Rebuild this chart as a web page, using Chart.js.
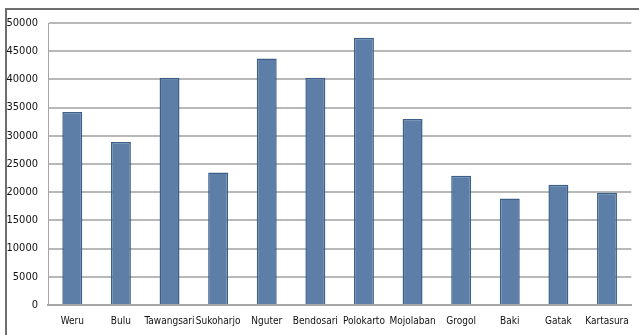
<!DOCTYPE html>
<html>
<head>
<meta charset="utf-8">
<script src="https://cdn.jsdelivr.net/npm/chart.js@4.4.1/dist/chart.umd.min.js"></script>
<style>
  html, body { margin: 0; padding: 0; background: #fff; }
  #frame { position: absolute; left: 5px; top: 8px; width: 634px; height: 327px;
           border-top: 2px solid #6e6e6e; border-left: 2px solid #6e6e6e; box-sizing: border-box; }
  #wrap { position: absolute; left: 0; top: 0; width: 639px; height: 335px; }
</style>
</head>
<body>
<div id="frame"></div>
<div id="wrap"><canvas id="bars"></canvas></div>
<script>
const districts = ['Weru', 'Bulu', 'Tawangsari', 'Sukoharjo', 'Nguter', 'Bendosari',
  'Polokarto', 'Mojolaban', 'Grogol', 'Baki', 'Gatak', 'Kartasura'];
const counts = [34200, 28900, 40300, 23500, 43700, 40300, 47400, 33000, 22900, 18900, 21300, 19900];
const yTicks = [0, 5000, 10000, 15000, 20000, 25000, 30000, 35000, 40000, 45000, 50000];

const fontFamily = "'Liberation Sans Narrow', 'DejaVu Sans Condensed', sans-serif";

const ctx = document.getElementById('bars').getContext('2d');
let chart = new Chart(ctx, { // eslint-disable-line
  type: 'bar',
  data: {
    labels: districts,
    datasets: [{
      data: counts,
      backgroundColor: '#5d7ea6',
      borderColor: '#3b5f8a',
      borderWidth: 1.5,
      categoryPercentage: 1,
      barPercentage: 0.41
    }]
  },
  options: {
    responsive: true,
    maintainAspectRatio: false,
    animation: false,
    layout: { padding: { top: 23, right: 5, left: 0, bottom: 0 } },
    plugins: { legend: { display: false }, tooltip: { enabled: false } },
    scales: {
      x: {
        grid: { display: false, drawTicks: false },
        border: { color: '#a6a6a6', width: 2 },
        ticks: { color: '#111', font: { family: fontFamily, size: 10 }, padding: 10, maxRotation: 0, autoSkip: false },
        afterFit: (scale) => { scale.height = 30; }
      },
      y: {
        min: 0,
        max: 50000,
        afterBuildTicks: (scale) => { scale.ticks = yTicks.map(v => ({ value: v })); },
        grid: { color: '#b8b8b8', lineWidth: 2, drawTicks: false },
        border: { color: '#a6a6a6', width: 1 },
        ticks: { color: '#111', font: { family: fontFamily, size: 11 }, padding: 10, callback: (v) => String(v) },
        afterFit: (scale) => { scale.width = 48; }
      }
    }
  }
});
</script>
</body>
</html>
